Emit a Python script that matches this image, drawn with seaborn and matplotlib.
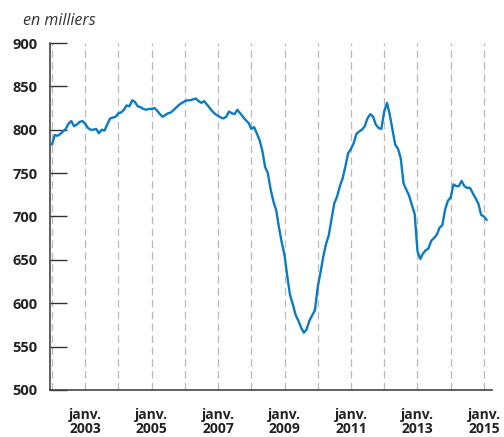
import pandas as pd
import matplotlib
matplotlib.use("Agg")
import matplotlib.pyplot as plt
import seaborn as sns

# monthly values, thousands, Jan 2002 -> Feb 2015
start = "2002-01-01"
values = [
    783, 794, 793, 795, 798, 801, 807, 810, 804, 806, 809, 810,   # 2002
    807, 802, 800, 800, 801, 796, 800, 799, 806, 813, 814, 815,   # 2003
    819, 820, 823, 828, 827, 834, 832, 827, 826, 824, 823, 824,   # 2004
    824, 825, 822, 818, 815, 817, 819, 820, 823, 826, 829, 831,   # 2005
    833, 834, 834, 835, 836, 833, 831, 833, 829, 825, 821, 818,   # 2006
    816, 814, 813, 815, 821, 819, 818, 823, 819, 815, 811, 808,   # 2007
    801, 803, 796, 788, 776, 757, 750, 731, 717, 707, 687, 670,   # 2008
    655, 630, 610, 599, 587, 580, 572, 566, 570, 580, 586, 592,   # 2009
    619, 636, 653, 668, 678, 697, 715, 723, 735, 744, 758, 773,   # 2010
    778, 785, 795, 798, 800, 804, 813, 818, 815, 806, 802, 801,   # 2011
    821, 831, 818, 800, 783, 778, 767, 738, 731, 724, 713, 703,   # 2012
    660, 651, 657, 661, 663, 672, 675, 679, 687, 690, 708, 718,   # 2013
    722, 737, 735, 735, 741, 735, 733, 733, 727, 721, 715, 702,   # 2014
    700, 696,                                                     # 2015
]
grid_years = list(range(2002, 2016))
label_years = [2003, 2005, 2007, 2009, 2011, 2013, 2015]
y_ticks = [500, 550, 600, 650, 700, 750, 800, 850, 900]

df = pd.DataFrame({
    "date": pd.date_range(start, periods=len(values), freq="MS"),
    "value": values,
})

sns.set_style("white")
plt.rcParams["font.family"] = ["Open Sans", "DejaVu Sans"]

fig = plt.figure(figsize=(5.04, 4.37), dpi=100)
ax = fig.add_axes([0.0992, 0.1076, 0.8764, 0.794])

sns.lineplot(data=df, x="date", y="value", color="#0a7bc4", linewidth=1.7, ax=ax)

ax.set_ylim(500, 900)
ax.set_xlim(pd.Timestamp("2001-12-10"), pd.Timestamp("2015-03-28"))

ax.set_yticks(y_ticks)
ax.set_yticklabels([str(v) for v in y_ticks], fontweight="bold", fontsize=10.5, color="#222222")
ax.tick_params(axis="y", direction="in", length=12, width=1.0, color="#333333", pad=9, left=True)

ax.set_xticks([pd.Timestamp(f"{y}-01-01") for y in grid_years], minor=True)
ax.set_xticks([pd.Timestamp(f"{y}-01-01") for y in label_years])
ax.set_xticklabels([f"janv.\n{y}" for y in label_years], fontweight="bold", fontsize=10, color="#222222",
                   linespacing=1.0)
ax.tick_params(axis="x", which="both", length=0, pad=13)
ax.xaxis.grid(True, which="both", color="#b8b8b8", linestyle=(0, (6, 3.5)), linewidth=0.9)
ax.yaxis.grid(False)

for side in ["top", "right"]:
    ax.spines[side].set_visible(False)
for side in ["left", "bottom"]:
    ax.spines[side].set_color("#444444")
    ax.spines[side].set_linewidth(1.2)

ax.set_xlabel("")
ax.set_ylabel("")

fig.text(0.046, 0.953, "en milliers", fontstyle="italic", fontsize=11.5, color="#333333", va="center")

fig.savefig("out.png", dpi=100)
